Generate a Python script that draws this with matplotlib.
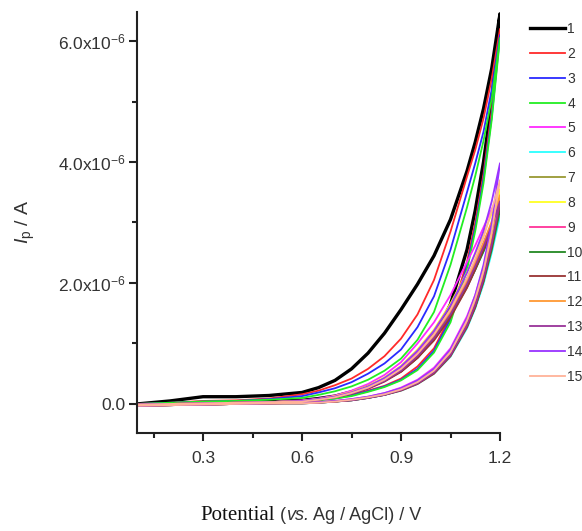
import matplotlib
matplotlib.use("Agg")
import matplotlib.pyplot as plt
from matplotlib.ticker import FixedLocator, FuncFormatter
from matplotlib.offsetbox import TextArea, HPacker, AnchoredOffsetbox

plt.rcParams['font.family'] = ['Liberation Sans', 'DejaVu Sans']
plt.rcParams['mathtext.fontset'] = 'custom'
plt.rcParams['mathtext.rm'] = 'Liberation Sans'
plt.rcParams['mathtext.it'] = 'Liberation Sans:italic'

# ---------------- data ----------------
cycle_labels = [str(i) for i in range(1, 16)]

potential_V = [0.10, 0.20, 0.30, 0.40, 0.50, 0.60, 0.65, 0.70, 0.75, 0.80,
               0.85, 0.90, 0.95, 1.00, 1.05, 1.10, 1.125, 1.15, 1.175, 1.20]

# forward scan currents (uA), one list per cycle
forward_uA = [
    [-0.02, 0.00, 0.02, 0.03, 0.05, 0.06, 0.09, 0.13, 0.20, 0.29, 0.40, 0.55, 0.78, 1.10, 1.65, 2.55, 3.20, 4.00, 5.00, 6.45],
    [-0.02, -0.01, 0.00, 0.01, 0.02, 0.04, 0.07, 0.10, 0.15, 0.22, 0.30, 0.42, 0.62, 0.92, 1.45, 2.35, 3.00, 3.80, 4.85, 6.20],
    [-0.02, -0.01, 0.00, 0.01, 0.02, 0.04, 0.06, 0.09, 0.14, 0.21, 0.29, 0.40, 0.58, 0.88, 1.40, 2.28, 2.92, 3.72, 4.75, 6.10],
    [-0.02, -0.01, 0.00, 0.01, 0.02, 0.04, 0.06, 0.09, 0.13, 0.20, 0.28, 0.39, 0.56, 0.85, 1.35, 2.22, 2.86, 3.65, 4.70, 6.05],
    [-0.03, -0.02, -0.01, 0.00, 0.01, 0.02, 0.03, 0.05, 0.08, 0.12, 0.18, 0.27, 0.40, 0.60, 0.92, 1.45, 1.80, 2.25, 2.82, 3.50],
    [-0.03, -0.02, -0.01, 0.00, 0.01, 0.01, 0.02, 0.04, 0.06, 0.10, 0.15, 0.22, 0.33, 0.50, 0.78, 1.25, 1.58, 1.98, 2.50, 3.10],
    [-0.03, -0.02, -0.01, 0.00, 0.01, 0.02, 0.03, 0.04, 0.07, 0.11, 0.16, 0.24, 0.36, 0.55, 0.85, 1.35, 1.68, 2.10, 2.65, 3.30],
    [-0.03, -0.02, -0.01, 0.00, 0.01, 0.02, 0.03, 0.05, 0.07, 0.11, 0.17, 0.25, 0.38, 0.57, 0.88, 1.40, 1.76, 2.20, 2.80, 3.55],
    [-0.03, -0.02, -0.01, 0.00, 0.01, 0.02, 0.03, 0.04, 0.07, 0.11, 0.16, 0.24, 0.36, 0.54, 0.84, 1.33, 1.67, 2.08, 2.65, 3.35],
    [-0.03, -0.02, -0.01, 0.00, 0.01, 0.01, 0.02, 0.04, 0.06, 0.10, 0.15, 0.23, 0.34, 0.51, 0.80, 1.28, 1.60, 2.02, 2.55, 3.20],
    [-0.03, -0.02, -0.01, 0.00, 0.01, 0.01, 0.02, 0.04, 0.06, 0.10, 0.15, 0.22, 0.33, 0.50, 0.79, 1.27, 1.60, 2.03, 2.60, 3.30],
    [-0.03, -0.02, -0.01, 0.00, 0.01, 0.02, 0.03, 0.04, 0.07, 0.11, 0.16, 0.24, 0.35, 0.53, 0.83, 1.33, 1.68, 2.12, 2.70, 3.45],
    [-0.03, -0.02, -0.01, 0.00, 0.01, 0.01, 0.02, 0.04, 0.06, 0.10, 0.15, 0.23, 0.34, 0.52, 0.81, 1.30, 1.64, 2.07, 2.65, 3.35],
    [-0.03, -0.02, -0.01, 0.00, 0.01, 0.02, 0.03, 0.05, 0.08, 0.12, 0.18, 0.26, 0.39, 0.58, 0.90, 1.42, 1.80, 2.30, 2.98, 3.98],
    [-0.03, -0.02, -0.01, 0.00, 0.01, 0.01, 0.02, 0.04, 0.07, 0.11, 0.16, 0.24, 0.36, 0.55, 0.86, 1.38, 1.74, 2.20, 2.85, 3.70],
]

# reverse scan currents (uA), one list per cycle
reverse_uA = [
    [0.00, 0.05, 0.12, 0.12, 0.14, 0.19, 0.27, 0.39, 0.58, 0.84, 1.17, 1.56, 1.98, 2.45, 3.05, 3.85, 4.33, 4.88, 5.55, 6.45],
    [0.00, 0.02, 0.05, 0.06, 0.09, 0.16, 0.22, 0.31, 0.42, 0.58, 0.79, 1.08, 1.48, 2.05, 2.85, 3.76, 4.20, 4.72, 5.38, 6.20],
    [0.00, 0.02, 0.04, 0.05, 0.08, 0.13, 0.19, 0.26, 0.36, 0.50, 0.67, 0.90, 1.27, 1.78, 2.55, 3.50, 3.98, 4.50, 5.20, 6.10],
    [0.00, 0.02, 0.04, 0.05, 0.07, 0.10, 0.15, 0.21, 0.29, 0.40, 0.55, 0.75, 1.06, 1.52, 2.30, 3.25, 3.77, 4.35, 5.05, 6.05],
    [-0.01, 0.00, 0.01, 0.02, 0.03, 0.06, 0.09, 0.14, 0.22, 0.33, 0.48, 0.69, 1.00, 1.35, 1.80, 2.35, 2.62, 2.92, 3.22, 3.50],
    [-0.01, 0.00, 0.01, 0.02, 0.03, 0.05, 0.08, 0.12, 0.18, 0.27, 0.40, 0.57, 0.80, 1.10, 1.48, 1.95, 2.22, 2.52, 2.82, 3.10],
    [-0.01, 0.00, 0.01, 0.02, 0.03, 0.05, 0.08, 0.12, 0.19, 0.29, 0.42, 0.60, 0.85, 1.17, 1.58, 2.08, 2.36, 2.66, 2.98, 3.30],
    [-0.01, 0.00, 0.01, 0.02, 0.03, 0.05, 0.08, 0.13, 0.20, 0.30, 0.44, 0.63, 0.90, 1.23, 1.66, 2.18, 2.48, 2.80, 3.15, 3.55],
    [-0.01, 0.00, 0.01, 0.02, 0.03, 0.05, 0.08, 0.12, 0.19, 0.28, 0.41, 0.59, 0.84, 1.15, 1.55, 2.05, 2.34, 2.65, 2.98, 3.35],
    [-0.01, 0.00, 0.01, 0.02, 0.03, 0.04, 0.07, 0.11, 0.17, 0.26, 0.38, 0.55, 0.78, 1.07, 1.45, 1.93, 2.22, 2.52, 2.85, 3.20],
    [-0.01, 0.00, 0.01, 0.02, 0.03, 0.04, 0.07, 0.11, 0.17, 0.25, 0.37, 0.53, 0.76, 1.05, 1.43, 1.92, 2.22, 2.55, 2.90, 3.30],
    [-0.01, 0.00, 0.01, 0.02, 0.03, 0.05, 0.07, 0.11, 0.18, 0.27, 0.40, 0.57, 0.81, 1.12, 1.52, 2.02, 2.33, 2.66, 3.02, 3.45],
    [-0.01, 0.00, 0.01, 0.02, 0.03, 0.04, 0.07, 0.11, 0.17, 0.26, 0.38, 0.55, 0.79, 1.09, 1.48, 1.98, 2.28, 2.60, 2.95, 3.35],
    [-0.01, 0.00, 0.01, 0.02, 0.03, 0.05, 0.08, 0.12, 0.19, 0.29, 0.43, 0.62, 0.88, 1.21, 1.63, 2.17, 2.50, 2.86, 3.35, 3.98],
    [-0.01, 0.00, 0.01, 0.02, 0.03, 0.04, 0.07, 0.11, 0.18, 0.27, 0.40, 0.58, 0.83, 1.15, 1.56, 2.08, 2.40, 2.75, 3.20, 3.70],
]

x_ticks = [0.3, 0.6, 0.9, 1.2]
x_minor = [0.15, 0.45, 0.75, 1.05]
y_ticks = [0.0, 2.0e-6, 4.0e-6, 6.0e-6]
y_minor = [1.0e-6, 3.0e-6, 5.0e-6]

# ---------------- style ----------------
colors = ['#000000', '#ff2a2a', '#2a2aff', '#22ee22', '#ff2aff', '#2affff',
          '#999933', '#ffff22', '#ff3399', '#228822', '#993333', '#ff9933',
          '#993399', '#9933ff', '#ffb299']

fig = plt.figure(figsize=(5.82, 5.31), dpi=100)
ax = fig.add_axes([137/582, 1 - 433/531, (500 - 137)/582, (433 - 12)/531])

handles = []
for i in range(15):
    xs = potential_V + potential_V[::-1]
    ys = [v * 1e-6 for v in forward_uA[i] + reverse_uA[i][::-1]]
    lw = 2.4 if i == 0 else 1.3
    ln, = ax.plot(xs, ys, color=colors[i], lw=lw, solid_joinstyle='round',
                  label=cycle_labels[i], zorder=2 + i * 0.01)
    handles.append(ln)

ax.set_xlim(0.1, 1.2)
ax.set_ylim(-0.48e-6, 6.48e-6)

ax.xaxis.set_major_locator(FixedLocator(x_ticks))
ax.xaxis.set_minor_locator(FixedLocator(x_minor))
ax.yaxis.set_major_locator(FixedLocator(y_ticks))
ax.yaxis.set_minor_locator(FixedLocator(y_minor))


def yfmt(v, pos):
    if abs(v) < 1e-12:
        return '0.0'
    return '%.1fx10$^{-6}$' % (v * 1e6)


ax.yaxis.set_major_formatter(FuncFormatter(yfmt))
ax.xaxis.set_major_formatter(FuncFormatter(lambda v, p: '%.1f' % v))

for s in ['top', 'right']:
    ax.spines[s].set_visible(False)
for s in ['left', 'bottom']:
    ax.spines[s].set_linewidth(1.5)
    ax.spines[s].set_color('#222222')

ax.tick_params(axis='both', which='major', length=6, width=1.5, color='#222222',
               labelsize=12.5, labelcolor='#333333')
ax.tick_params(axis='both', which='minor', length=3.5, width=1.5, color='#222222')
ax.tick_params(axis='x', which='major', pad=7)
ax.tick_params(axis='y', which='major', pad=2)

# y label
fig.text(25/582, 1 - 222/531, r'$\mathit{I}_{\mathrm{p}}$ / A', rotation=90,
         ha='center', va='center', fontsize=14, color='#333333')

# x label with mixed fonts
ta1 = TextArea('Potential', textprops=dict(family='Liberation Serif', size=15, color='#111111'))
ta2 = TextArea(' (', textprops=dict(family='Liberation Sans', size=13, color='#333333'))
ta3 = TextArea('vs.', textprops=dict(family='Liberation Sans', style='italic', size=13, color='#333333'))
ta4 = TextArea(' Ag / AgCl) / V', textprops=dict(family='Liberation Sans', size=13, color='#333333'))
box = HPacker(children=[ta1, ta2, ta3, ta4], align='baseline', pad=0, sep=0)
anch = AnchoredOffsetbox(loc='center', child=box, pad=0, frameon=False,
                         bbox_to_anchor=(311/582, 1 - 516/531),
                         bbox_transform=fig.transFigure, borderpad=0)
fig.add_artist(anch)

leg = fig.legend(handles=handles, loc='upper left',
                 bbox_to_anchor=(530/582, 1 - 22/531),
                 bbox_transform=fig.transFigure, frameon=False,
                 fontsize=10, handlelength=2.5, handletextpad=0.2,
                 labelspacing=0.78, borderpad=0, borderaxespad=0)
for t in leg.get_texts():
    t.set_color('#333333')

fig.savefig('out.png', dpi=100)
